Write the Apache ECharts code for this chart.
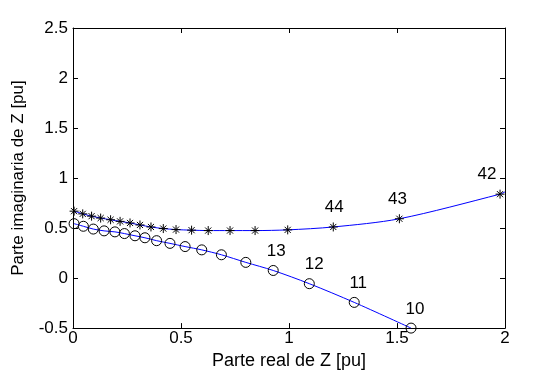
<!DOCTYPE html>
<html>
<head>
<meta charset="utf-8">
<script src="https://cdn.jsdelivr.net/npm/echarts@6/dist/echarts.min.js"></script>
<style>html,body{margin:0;padding:0;background:#fff;}#c{width:559px;height:375px;}</style>
</head>
<body>
<div id="c"></div>
<script>
var circleX = [0.005,0.048,0.094,0.144,0.194,0.238,0.287,0.333,0.387,0.449,0.519,0.596,0.687,0.800,0.927,1.094,1.302,1.565];
var circleY = [0.544,0.518,0.490,0.472,0.462,0.445,0.423,0.403,0.374,0.347,0.315,0.282,0.233,0.157,0.076,-0.056,-0.243,-0.500];
var circleLabels = ['','','','','','','','','','','','','','','13','12','11','10'];
var starX = [0.005,0.045,0.086,0.128,0.174,0.218,0.264,0.310,0.361,0.418,0.477,0.549,0.626,0.727,0.843,0.994,1.205,1.511,1.977];
var starY = [0.669,0.642,0.619,0.600,0.583,0.567,0.551,0.531,0.511,0.495,0.485,0.479,0.475,0.475,0.475,0.482,0.511,0.593,0.839];
var starLabels = ['','','','','','','','','','','','','','','','','44','43','42'];
// continuation of the star curve up to the right frame (no marker there)
var starTailX = [2.0];
var starTailY = [0.862];
var xTicks = ['0','0.5','1','1.5','2'];
var yTicks = ['-0.5','0','0.5','1','1.5','2','2.5'];

var FONT = 'Liberation Sans, Arial, Helvetica, sans-serif';
var FS = 17;
var labelOffsets = {'13':[3,0],'12':[5,0],'11':[4,0],'10':[4,0],'44':[1,0],'43':[-2,0],'42':[-13,0]};

function build(xs, ys, labels, dist) {
  return xs.map(function (x, i) {
    var item = {value: [x, ys[i]]};
    if (labels[i]) {
      item.label = {show: true, formatter: labels[i], position: 'top', distance: dist,
        offset: labelOffsets[labels[i]], color: '#000', fontSize: FS, fontFamily: FONT};
    }
    return item;
  });
}

var starData = build(starX, starY, starLabels, 6).concat(starTailX.map(function (x, i) {
  return {value: [x, starTailY[i]], symbol: 'none'};
}));

var star = 'path://M5 0 L5 10 M0 5 L10 5 M1.6 1.6 L8.4 8.4 M8.4 1.6 L1.6 8.4';

var chart = echarts.init(document.getElementById('c'), null, {renderer: 'canvas'});
var axisCommon = {
  axisLine: {show: true, onZero: false, lineStyle: {color: '#000', width: 1}},
  axisTick: {show: true, inside: true, length: 5, lineStyle: {color: '#000'}},
  splitLine: {show: false}
};
chart.setOption({
  animation: false,
  backgroundColor: '#fff',
  grid: {left: 73, right: 54, top: 28, bottom: 42},
  xAxis: [
    Object.assign({type: 'value', min: 0, max: 2, interval: 0.5, position: 'bottom',
      name: 'Parte real de Z [pu]', nameLocation: 'middle', nameGap: 18,
      nameTextStyle: {color: '#000', fontSize: 18, fontFamily: FONT},
      axisLabel: {color: '#000', fontSize: FS, fontFamily: FONT, margin: 2,
        formatter: function (v) { return xTicks[Math.round(v / 0.5)]; }}}, axisCommon),
    Object.assign({type: 'value', min: 0, max: 2, interval: 0.5, position: 'top',
      axisLabel: {show: false}}, axisCommon)
  ],
  yAxis: [
    Object.assign({type: 'value', min: -0.5, max: 2.5, interval: 0.5, position: 'left',
      name: 'Parte imaginaria de Z [pu]', nameLocation: 'middle', nameGap: 46,
      nameTextStyle: {color: '#000', fontSize: FS, fontFamily: FONT},
      axisLabel: {color: '#000', fontSize: FS, fontFamily: FONT, margin: 5,
        formatter: function (v) { return yTicks[Math.round((v + 0.5) / 0.5)]; }}}, axisCommon),
    Object.assign({type: 'value', min: -0.5, max: 2.5, interval: 0.5, position: 'right',
      axisLabel: {show: false}}, axisCommon)
  ],
  series: [
    {type: 'line', data: starData, smooth: 0.3,
      symbol: star, symbolSize: 9, showAllSymbol: true,
      lineStyle: {color: '#0000ff', width: 1},
      itemStyle: {color: 'transparent', borderColor: '#000', borderWidth: 1}},
    {type: 'line', data: build(circleX, circleY, circleLabels, 5), smooth: 0.3,
      symbol: 'circle', symbolSize: 10, showAllSymbol: true,
      lineStyle: {color: '#0000ff', width: 1},
      itemStyle: {color: 'transparent', borderColor: '#000', borderWidth: 1}}
  ]
});
</script>
</body>
</html>
